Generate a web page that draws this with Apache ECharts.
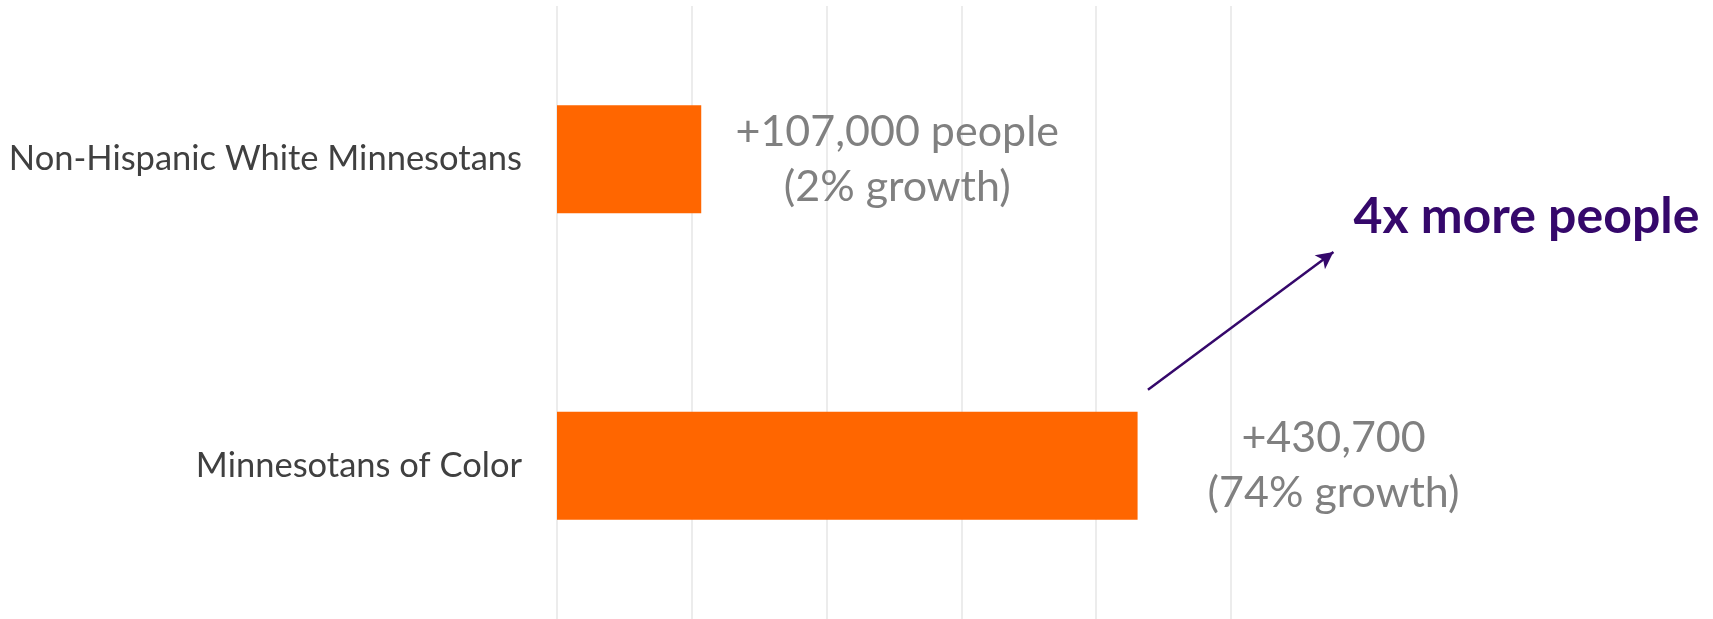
<!DOCTYPE html>
<html><head><meta charset="utf-8">
<script src="https://cdn.jsdelivr.net/npm/echarts@6/dist/echarts.min.js"></script>
<style>html,body{margin:0;padding:0;background:#fff}#c{width:1713px;height:619px}</style>
</head><body><div id="c"></div>
<script>
const categories = ["Non-Hispanic White Minnesotans", "Minnesotans of Color"];
const growthValues = [107000, 430700];
const growthLabels = ["+107,000 people\n(2% growth)", "+430,700\n(74% growth)"];
const axisTicks = [0, 100000, 200000, 300000, 400000, 500000];
const annotationText = "4x more people";
// arrow ends: [value on x axis, position between category 0 and 1]
const arrowFrom = [438400, 0.752];
const arrowTo = [576000, 0.303];

const FONT = "Lato";
const PURPLE = '#35086b';
const chart = echarts.init(document.getElementById('c'), null, {renderer: 'canvas'});
chart.setOption({
  animation: false,
  grid: {left: 557, right: 482, top: 6, bottom: 0, containLabel: false},
  xAxis: {
    type: 'value', min: axisTicks[0], max: axisTicks[axisTicks.length - 1], interval: axisTicks[1] - axisTicks[0],
    axisLabel: {show: false}, axisLine: {show: false}, axisTick: {show: false},
    splitLine: {show: true, lineStyle: {color: '#e6e6e6', width: 1.5}}
  },
  yAxis: {
    type: 'category', data: categories, inverse: true,
    axisLine: {show: false}, axisTick: {show: false},
    axisLabel: {color: '#404040', fontSize: 34.5, fontFamily: FONT, margin: 35}
  },
  series: [{
    type: 'bar', barWidth: 108,
    itemStyle: {color: '#ff6600'},
    data: growthValues.map((v, i) => ({
      value: v,
      label: {
        show: true, position: 'right', distance: 196, align: 'center',
        formatter: growthLabels[i], color: '#808080', fontSize: 43, lineHeight: 55, fontFamily: FONT
      }
    }))
  }]
});
function toPx(pt) {
  const x = chart.convertToPixel({xAxisIndex: 0}, pt[0]);
  const y0 = chart.convertToPixel({yAxisIndex: 0}, categories[0]);
  const y1 = chart.convertToPixel({yAxisIndex: 0}, categories[1]);
  return [x, y0 + pt[1] * (y1 - y0)];
}
const a = toPx(arrowFrom), b = toPx(arrowTo);
chart.setOption({
  series: [{
    markLine: {
      silent: true, symbol: ['none', 'arrow'], symbolSize: [13, 17],
      lineStyle: {color: PURPLE, width: 2.5, type: 'solid'},
      label: {show: false},
      data: [[{x: a[0], y: a[1]}, {x: b[0], y: b[1]}]]
    }
  }],
  graphic: [{
    type: 'text', x: b[0] + 20, y: b[1] - 35,
    style: {text: annotationText, fill: PURPLE, font: 'bold 50px ' + FONT, textVerticalAlign: 'middle'}
  }]
});
</script></body></html>
